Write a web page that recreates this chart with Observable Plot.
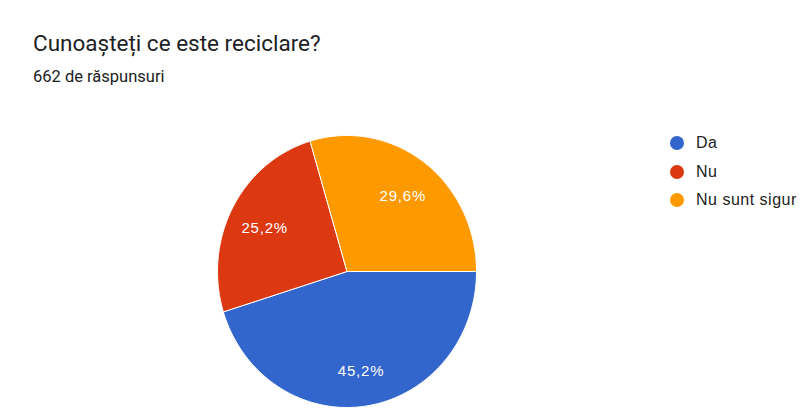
<!DOCTYPE html>
<html>
<head>
<meta charset="utf-8">
<script src="https://cdn.jsdelivr.net/npm/d3@7"></script>
<script src="https://cdn.jsdelivr.net/npm/@observablehq/plot@0.6"></script>
<style>
  body { margin: 0; background: #fff; }
  #wrap { position: relative; width: 802px; height: 420px; overflow: hidden; background: #fff; }
  #title { position: absolute; left: 33px; top: 32px; font-family: Roboto, Arial, sans-serif; font-size: 22.5px; line-height: 1; color: #202124; white-space: nowrap; }
  #subtitle { position: absolute; left: 33px; top: 69px; font-family: Roboto, Arial, sans-serif; font-size: 16.5px; line-height: 1; color: #202124; white-space: nowrap; }
  #chart { position: absolute; left: 207px; top: 125px; }
  #chart text { letter-spacing: 0.8px; }
  .lg { position: absolute; left: 670px; height: 20px; display: flex; align-items: center; font-family: "Liberation Sans", Arial, sans-serif; font-size: 16px; letter-spacing: 0.5px; color: #222; white-space: nowrap; }
  .lg .dot { width: 14px; height: 14px; border-radius: 50%; margin-right: 12px; }
</style>
</head>
<body>
<div id="wrap">
  <div id="title"></div>
  <div id="subtitle"></div>
  <div id="chart"></div>
</div>
<script>
const titleText = "Cunoașteți ce este reciclare?";
const subtitleText = "662 de răspunsuri";
const categories = ["Da", "Nu", "Nu sunt sigur"];
const values = [45.2, 25.2, 29.6];
const labels = ["45,2%", "25,2%", "29,6%"];
const colors = ["#3366cc", "#dc3912", "#ff9900"];

document.getElementById("title").textContent = titleText;
document.getElementById("subtitle").textContent = subtitleText;

// slice angles (clockwise from 3 o'clock in screen space)
const total = d3.sum(values);
let acc = 0;
const slices = categories.map((c, i) => {
  const a0 = acc / total * 2 * Math.PI;
  acc += values[i];
  const a1 = acc / total * 2 * Math.PI;
  return { cat: c, label: labels[i], a0, a1, mid: (a0 + a1) / 2 };
});

// outline points for each slice polygon
const pts = [];
for (const s of slices) {
  pts.push({ cat: s.cat, x: 0, y: 0 });
  const n = Math.max(2, Math.ceil((s.a1 - s.a0) / (Math.PI / 180)));
  for (let k = 0; k <= n; k++) {
    const a = s.a0 + (s.a1 - s.a0) * k / n;
    pts.push({ cat: s.cat, x: Math.cos(a), y: Math.sin(a) });
  }
  pts.push({ cat: s.cat, x: 0, y: 0 });
}

const labelR = 0.72;
const chart = Plot.plot({
  width: 279,
  height: 292,
  margin: 10,
  style: { background: "transparent" },
  x: { domain: [-1, 1], axis: null },
  y: { domain: [-1, 1], reverse: true, axis: null },
  color: { domain: categories, range: colors },
  marks: [
    Plot.line(pts, { x: "x", y: "y", z: "cat", fill: "cat", stroke: "white", strokeWidth: 1, curve: "linear" }),
    Plot.text(slices, {
      x: d => labelR * Math.cos(d.mid),
      y: d => labelR * Math.sin(d.mid),
      dy: 3,
      text: "label",
      fill: "white",
      fontSize: 15,
      fontFamily: "Liberation Sans, Arial, sans-serif"
    })
  ]
});
document.getElementById("chart").appendChild(chart);

// legend
const wrap = document.getElementById("wrap");
categories.forEach((c, i) => {
  const row = document.createElement("div");
  row.className = "lg";
  row.style.top = (133 + i * 28.5) + "px";
  const dot = document.createElement("span");
  dot.className = "dot";
  dot.style.background = colors[i];
  const t = document.createElement("span");
  t.textContent = c;
  row.appendChild(dot);
  row.appendChild(t);
  wrap.appendChild(row);
});
</script>
</body>
</html>
